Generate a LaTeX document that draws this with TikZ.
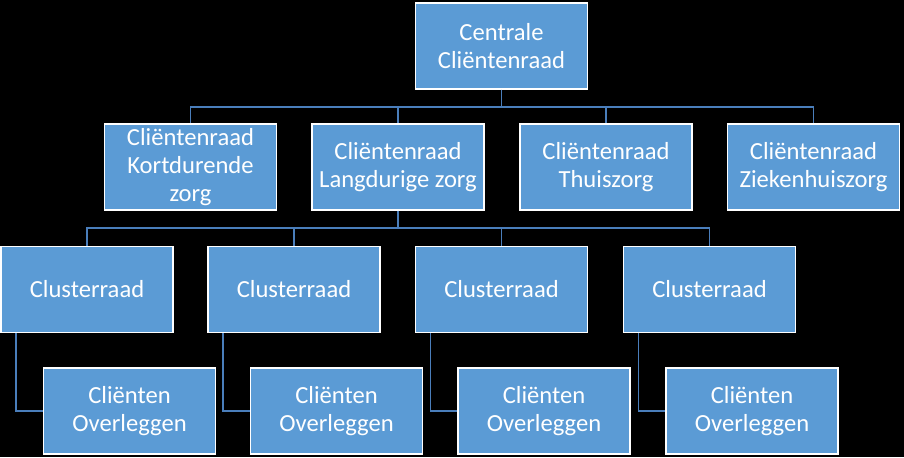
\documentclass[tikz,border=0pt]{standalone}
\usepackage{fontspec}
\setmainfont{Carlito}
\usepackage{tikz}
\usetikzlibrary{calc,positioning}

\definecolor{boxblue}{RGB}{91,155,213}
\definecolor{lineblue}{RGB}{74,126,187}

\begin{document}
\begin{tikzpicture}[scale=1,
	raad/.style={draw=white, line width=1.1pt, fill=boxblue, text=white, align=center,
		minimum width=3.44cm, minimum height=1.72cm, inner sep=0pt,
		font=\fontsize{14}{16}\selectfont},
	verbind/.style={draw=lineblue, line width=0.8pt}]
	
	\fill[black] (0,0) rectangle (18.08,-9.14);
	\useasboundingbox (0,0) rectangle (18.08,-9.14);
	
	\node[raad] (centraal) at (10.03,-0.92) {Centrale\\Cliëntenraad};
	
	\node[raad] (kort) at (3.81,-3.34) {Cliëntenraad\\Kortdurende\\zorg};
	\node[raad] (lang) at (7.96,-3.34) {Cliëntenraad\\Langdurige zorg};
	\node[raad] (thuis) at (12.12,-3.34) {Cliëntenraad\\Thuiszorg};
	\node[raad] (zkh) at (16.27,-3.34) {Cliëntenraad\\Ziekenhuiszorg};
	
	\coordinate (bus1) at (0,-2.14);
	\coordinate (bus2) at (0,-4.56);
	
	\foreach \n in {kort,lang,thuis,zkh}
		\draw[verbind] (centraal.south) |- (\n.north |- bus1) -- (\n.north);
	
	\foreach \i/\x in {1/1.74,2/5.88,3/10.03,4/14.19}{
		\node[raad] (cluster\i) at (\x,-5.79) {Clusterraad};
		\node[raad] (overleg\i) at ($(\x,-8.22)+(0.85,0)$) {Cliënten\\Overleggen};
		\draw[verbind] (lang.south) |- (cluster\i.north |- bus2) -- (cluster\i.north);
		\draw[verbind] ([xshift=0.32cm]cluster\i.south west) |- (overleg\i.west);
	}
\end{tikzpicture}
\end{document}
